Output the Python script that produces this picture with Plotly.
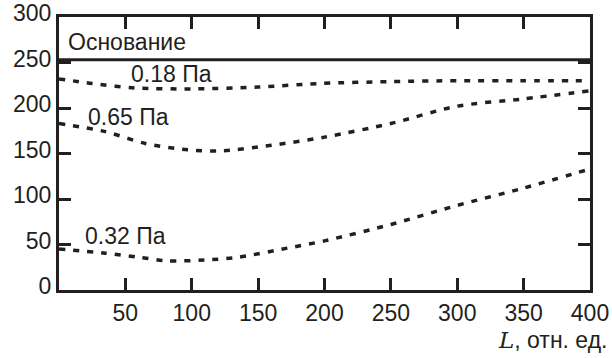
import plotly.graph_objects as go

# Data
x_018 = [0, 25, 57, 102, 150, 198, 250, 300, 350, 400]
y_018 = [232, 227, 222, 221, 223, 227, 229, 230, 230, 230]

x_065 = [0, 35, 65, 97, 123, 160, 200, 250, 300, 350, 400]
y_065 = [183, 174, 161, 154, 153, 159, 168, 183, 202, 210, 219]

x_032 = [0, 35, 60, 82, 110, 135, 172, 200, 250, 300, 350, 400]
y_032 = [45, 40.5, 36, 32, 33, 36, 46, 54, 72, 93, 112, 133]

base_x = [0, 400]
base_y = [253, 253]

x_ticks = [50, 100, 150, 200, 250, 300, 350, 400]
y_ticks = [0, 50, 100, 150, 200, 250, 300]

labels = [
    ("Основание", 5, 272),
    ("0.18 Па", 53, 237),
    ("0.65 Па", 20, 190),
    ("0.32 Па", 18, 59),
]

INK = "#231f20"
FONT = "Liberation Sans, Arial, sans-serif"
FS = 23

fig = go.Figure()
fig.add_trace(go.Scatter(x=base_x, y=base_y, mode="lines",
                         line=dict(color=INK, width=3), showlegend=False,
                         hoverinfo="skip"))
for xs, ys in [(x_018, y_018), (x_065, y_065), (x_032, y_032)]:
    fig.add_trace(go.Scatter(x=xs, y=ys, mode="lines",
                             line=dict(color=INK, width=3.5, dash="6px,8px",
                                       shape="spline", smoothing=0.8),
                             showlegend=False, hoverinfo="skip"))

for text, lx, ly in labels:
    fig.add_annotation(x=lx, y=ly, text=text, showarrow=False,
                       xanchor="left", yanchor="middle",
                       font=dict(family=FONT, size=FS, color=INK))

fig.add_annotation(xref="paper", yref="paper", x=1.035, y=-0.183,
                   xanchor="right", yanchor="middle", showarrow=False,
                   text='<span style="font-family:\'DejaVu Serif\', serif"><i>L</i></span>, отн. ед.',
                   font=dict(family=FONT, size=FS, color=INK))

axis_common = dict(showline=True, linecolor=INK, linewidth=3, mirror="ticks",
                   ticks="inside", ticklen=12, tickwidth=3, tickcolor=INK,
                   showgrid=False, zeroline=False, automargin=False,
                   tickfont=dict(family=FONT, size=FS, color=INK))

fig.update_xaxes(range=[0, 400], tickvals=x_ticks,
                 ticktext=[str(v) for v in x_ticks], **axis_common)
fig.update_yaxes(range=[0, 300], tickvals=y_ticks,
                 ticktext=[str(v) for v in y_ticks], ticklabelshift=-4,
                 **axis_common)

fig.update_layout(width=612, height=358,
                  margin=dict(l=59, r=22, t=17, b=68, autoexpand=False),
                  plot_bgcolor="white", paper_bgcolor="white",
                  font=dict(family=FONT, color=INK))

fig.write_html("out.html", config={"displayModeBar": False},
               post_script="document.body.style.margin='0';"
                           "document.body.style.overflow='hidden';")
